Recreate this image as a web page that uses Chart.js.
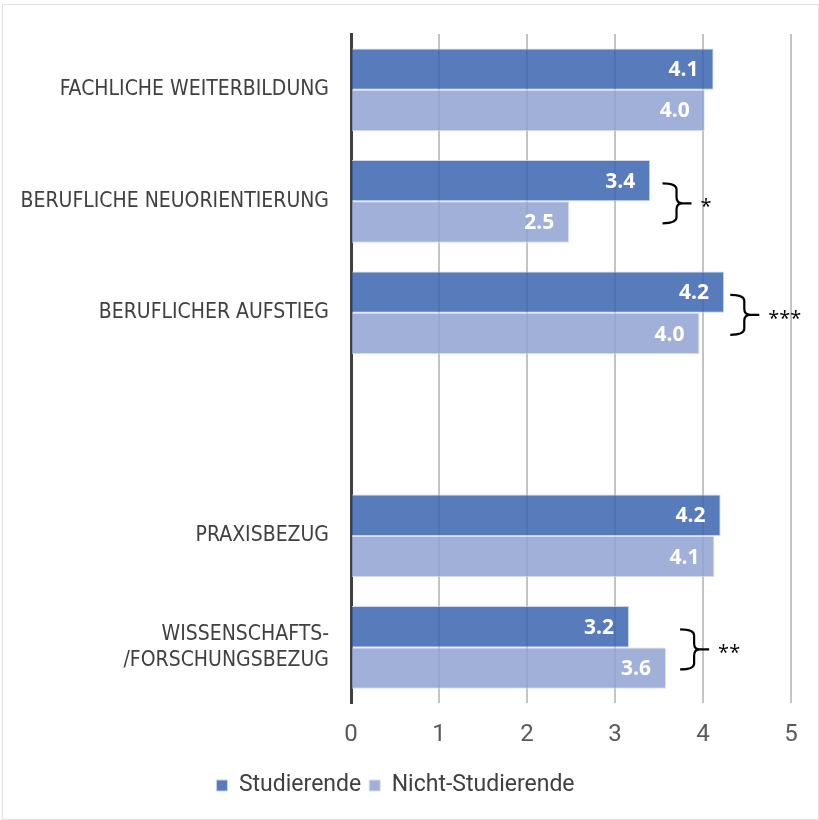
<!DOCTYPE html>
<html lang="de">
<head>
    <meta charset="UTF-8">
    <title>Motive</title>
    <script src="https://cdn.jsdelivr.net/npm/chart.js@4.4.0/dist/chart.umd.min.js"></script>
    <style>
        body { margin: 0; background: #fff; }
        .frame {
            position: absolute; left: 2px; top: 4px;
            width: 815px; height: 814px;
            border: 1px solid #e0e0e0;
        }
        .wrap { position: absolute; left: 0; top: 0; width: 819px; height: 820px; }
    </style>
</head>
<body>
    <div class="frame"></div>
    <div class="wrap"><canvas id="motive" width="819" height="820"></canvas></div>

<script>
    // categories (the empty one is the gap between the two blocks)
    var categories = [
        'FACHLICHE WEITERBILDUNG',
        'BERUFLICHE NEUORIENTIERUNG',
        'BERUFLICHER AUFSTIEG',
        '',
        'PRAXISBEZUG',
        ['WISSENSCHAFTS-', '/FORSCHUNGSBEZUG']
    ];
    var studierende = [4.12, 3.40, 4.24, null, 4.20, 3.16];
    var nichtStudierende = [4.02, 2.48, 3.96, null, 4.13, 3.58];
    var xTicks = [0, 1, 2, 3, 4, 5];

    // significance brackets: row index, x position (scale units), stars
    var sigRows = [1, 2, 5];
    var sigAt = [3.54, 4.31, 3.74];
    var sigStars = ['*', '***', '**'];

    // white value labels inside the bar ends
    var valueLabels = {
        id: 'valueLabels',
        afterDatasetsDraw: function(chart) {
            var ctx = chart.ctx;
            ctx.save();
            ctx.fillStyle = '#ffffff';
            ctx.font = 'bold 21px "Open Sans", sans-serif';
            ctx.textAlign = 'right';
            ctx.textBaseline = 'middle';
            chart.data.datasets.forEach(function(ds, i) {
                chart.getDatasetMeta(i).data.forEach(function(bar, j) {
                    if (ds.data[j] == null) return;
                    ctx.fillText(ds.data[j].toFixed(1), bar.x - 15, bar.y + 1);
                });
            });
            ctx.restore();
        }
    };

    // curly brackets with stars
    var brackets = {
        id: 'brackets',
        afterDraw: function(chart) {
            var ctx = chart.ctx;
            var xs = chart.scales.x, ys = chart.scales.y;
            ctx.save();
            ctx.strokeStyle = '#000';
            ctx.lineWidth = 2.2;
            ctx.fillStyle = '#000';
            ctx.font = '20px "Open Sans", sans-serif';
            ctx.textBaseline = 'middle';
            for (var k = 0; k < sigRows.length; k++) {
                var yM = ys.getPixelForValue(sigRows[k]) + 2;
                var yT = yM - 20, yB = yM + 20;
                var x0 = xs.getPixelForValue(sigAt[k]);
                var xm = x0 + 14, r = 6, xTip = x0 + 29;
                ctx.beginPath();
                ctx.moveTo(x0, yT);
                ctx.quadraticCurveTo(xm, yT, xm, yT + r);
                ctx.lineTo(xm, yM - r);
                ctx.quadraticCurveTo(xm, yM, xm + r, yM);
                ctx.lineTo(xTip, yM);
                ctx.moveTo(xm + r, yM);
                ctx.quadraticCurveTo(xm, yM, xm, yM + r);
                ctx.lineTo(xm, yB - r);
                ctx.quadraticCurveTo(xm, yB, x0, yB);
                ctx.stroke();
                ctx.fillText(sigStars[k], xTip + 9, yM + 4);
            }
            ctx.restore();
        }
    };

    var chart = new Chart(document.getElementById('motive'), {
        type: 'bar',
        data: {
            labels: categories,
            datasets: [
                {
                    label: 'Studierende',
                    data: studierende,
                    backgroundColor: 'rgba(59,100,175,0.85)',
                    borderColor: 'rgba(200,212,236,0.9)',
                    borderWidth: 1,
                    borderSkipped: 'start'
                },
                {
                    label: 'Nicht-Studierende',
                    data: nichtStudierende,
                    backgroundColor: 'rgba(144,162,209,0.85)',
                    borderColor: 'rgba(215,222,240,0.9)',
                    borderWidth: 1,
                    borderSkipped: 'start'
                }
            ]
        },
        options: {
            indexAxis: 'y',
            responsive: false,
            animation: false,
            categoryPercentage: 0.742,
            barPercentage: 1.0,
            layout: { padding: { top: 34, right: 28, bottom: 13, left: 0 } },
            plugins: {
                legend: {
                    position: 'bottom',
                    labels: {
                        boxWidth: 11,
                        boxHeight: 11,
                        padding: 8,
                        color: '#404040',
                        font: { family: 'Roboto', size: 23 }
                    }
                },
                tooltip: { enabled: false }
            },
            scales: {
                x: {
                    min: 0,
                    max: 5,
                    afterBuildTicks: function(s) { s.ticks = xTicks.map(function(v) { return { value: v }; }); },
                    grid: { color: '#c4c4c4', lineWidth: 2, drawTicks: false },
                    border: { display: false },
                    ticks: {
                        color: '#595959',
                        padding: 17,
                        font: { family: 'Roboto', size: 24 }
                    }
                },
                y: {
                    grid: { display: false, drawTicks: false },
                    border: { display: true, color: '#404040', width: 3 },
                    afterFit: function(s) {
                        s.width = 351;
                        s.paddingTop = 0;
                        s.paddingBottom = 0;
                    },
                    ticks: {
                        color: '#404040',
                        padding: 22,
                        font: { family: '"Liberation Sans Narrow", "DejaVu Sans Condensed", Roboto', size: 21, lineHeight: 1.25 }
                    }
                }
            }
        },
        plugins: [valueLabels, brackets]
    });
</script>
</body>
</html>
